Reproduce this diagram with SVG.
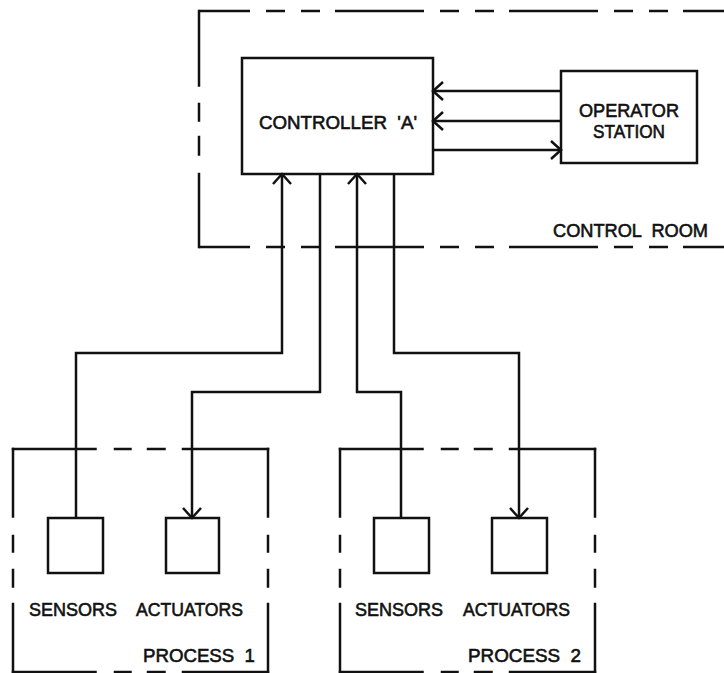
<svg xmlns="http://www.w3.org/2000/svg" width="724" height="673" viewBox="0 0 724 673">
<style>
.ln{fill:none;stroke:#111;stroke-width:2.5}
.bx{fill:#fff;stroke:#111;stroke-width:2.5}
.t{font-family:"Liberation Sans",Arial,sans-serif;font-size:19px;fill:#111;stroke:#111;stroke-width:0.6}
</style>
<defs>
<marker id="ah" markerUnits="userSpaceOnUse" markerWidth="24" markerHeight="24" viewBox="-12 -12 24 24" refX="0" refY="0" orient="auto">
<path d="M-10,-9 L0,0 L-10,9" fill="none" stroke="#111" stroke-width="2.5"/>
</marker>
</defs>
<rect width="724" height="673" fill="#fff"/>

<g id="control-room">
<line class="ln" x1="199" y1="11" x2="730" y2="11" stroke-dasharray="89 16 19 16 19 15" stroke-dashoffset="38"/>
<line class="ln" x1="199" y1="247" x2="730" y2="247" stroke-dasharray="89 16 19 16 19 15" stroke-dashoffset="38"/>
<line class="ln" x1="199" y1="9.75" x2="199" y2="248.25" stroke-dasharray="77 16 19 14 20 17 200"/>
<text class="t" x="553" y="237" textLength="155" lengthAdjust="spacingAndGlyphs" style="white-space:pre">CONTROL  ROOM</text>
</g>

<g id="controller">
<rect class="bx" x="242" y="58" width="191" height="116"/>
<text class="t" x="259" y="129" textLength="158" lengthAdjust="spacingAndGlyphs" style="white-space:pre">CONTROLLER  'A'</text>
</g>

<g id="operator-station">
<rect class="bx" x="561" y="71" width="136" height="92"/>
<text class="t" x="629" y="117" text-anchor="middle" textLength="100" lengthAdjust="spacingAndGlyphs">OPERATOR</text>
<text class="t" x="629" y="138" text-anchor="middle" textLength="72" lengthAdjust="spacingAndGlyphs">STATION</text>
</g>

<g id="process-1">
<line class="ln" x1="11.75" y1="449" x2="269.25" y2="449" stroke-dasharray="85 17 18 15 19 16 200"/>
<line class="ln" x1="11.75" y1="672" x2="269.25" y2="672" stroke-dasharray="85 17 18 15 19 16 200"/>
<line class="ln" x1="13" y1="447.75" x2="13" y2="674" stroke-dasharray="70 17 18 16 19 15 200"/>
<line class="ln" x1="268" y1="447.75" x2="268" y2="674" stroke-dasharray="70 17 18 16 19 15 200"/>
<text class="t" x="255" y="662" text-anchor="end" textLength="112" lengthAdjust="spacingAndGlyphs" style="white-space:pre">PROCESS  1</text>
</g>
<g id="sensors-1">
<rect class="bx" x="48" y="518" width="55" height="55"/>
<text class="t" x="29" y="616" textLength="88" lengthAdjust="spacingAndGlyphs">SENSORS</text>
</g>
<g id="actuators-1">
<rect class="bx" x="166" y="518" width="53" height="55"/>
<text class="t" x="136" y="616" textLength="107" lengthAdjust="spacingAndGlyphs">ACTUATORS</text>
</g>

<g id="process-2">
<line class="ln" x1="338.75" y1="449" x2="596.25" y2="449" stroke-dasharray="85 17 18 15 19 16 200"/>
<line class="ln" x1="338.75" y1="672" x2="596.25" y2="672" stroke-dasharray="85 17 18 15 19 16 200"/>
<line class="ln" x1="340" y1="447.75" x2="340" y2="674" stroke-dasharray="70 17 18 16 19 15 200"/>
<line class="ln" x1="595" y1="447.75" x2="595" y2="674" stroke-dasharray="70 17 18 16 19 15 200"/>
<text class="t" x="581" y="662" text-anchor="end" textLength="113" lengthAdjust="spacingAndGlyphs" style="white-space:pre">PROCESS  2</text>
</g>
<g id="sensors-2">
<rect class="bx" x="374" y="518" width="55" height="55"/>
<text class="t" x="355" y="616" textLength="88" lengthAdjust="spacingAndGlyphs">SENSORS</text>
</g>
<g id="actuators-2">
<rect class="bx" x="492" y="518" width="55" height="55"/>
<text class="t" x="463" y="616" textLength="107" lengthAdjust="spacingAndGlyphs">ACTUATORS</text>
</g>

<g id="connectors">
<path class="ln" d="M561,91 H433" marker-end="url(#ah)"/>
<path class="ln" d="M561,121 H433" marker-end="url(#ah)"/>
<path class="ln" d="M433,150 H561" marker-end="url(#ah)"/>
<path class="ln" d="M76,518 V353 H282 V174" marker-end="url(#ah)"/>
<path class="ln" d="M320,174 V392 H192 V518" marker-end="url(#ah)"/>
<path class="ln" d="M401,518 V392 H357 V174" marker-end="url(#ah)"/>
<path class="ln" d="M394,174 V353 H519 V518" marker-end="url(#ah)"/>
</g>
</svg>
